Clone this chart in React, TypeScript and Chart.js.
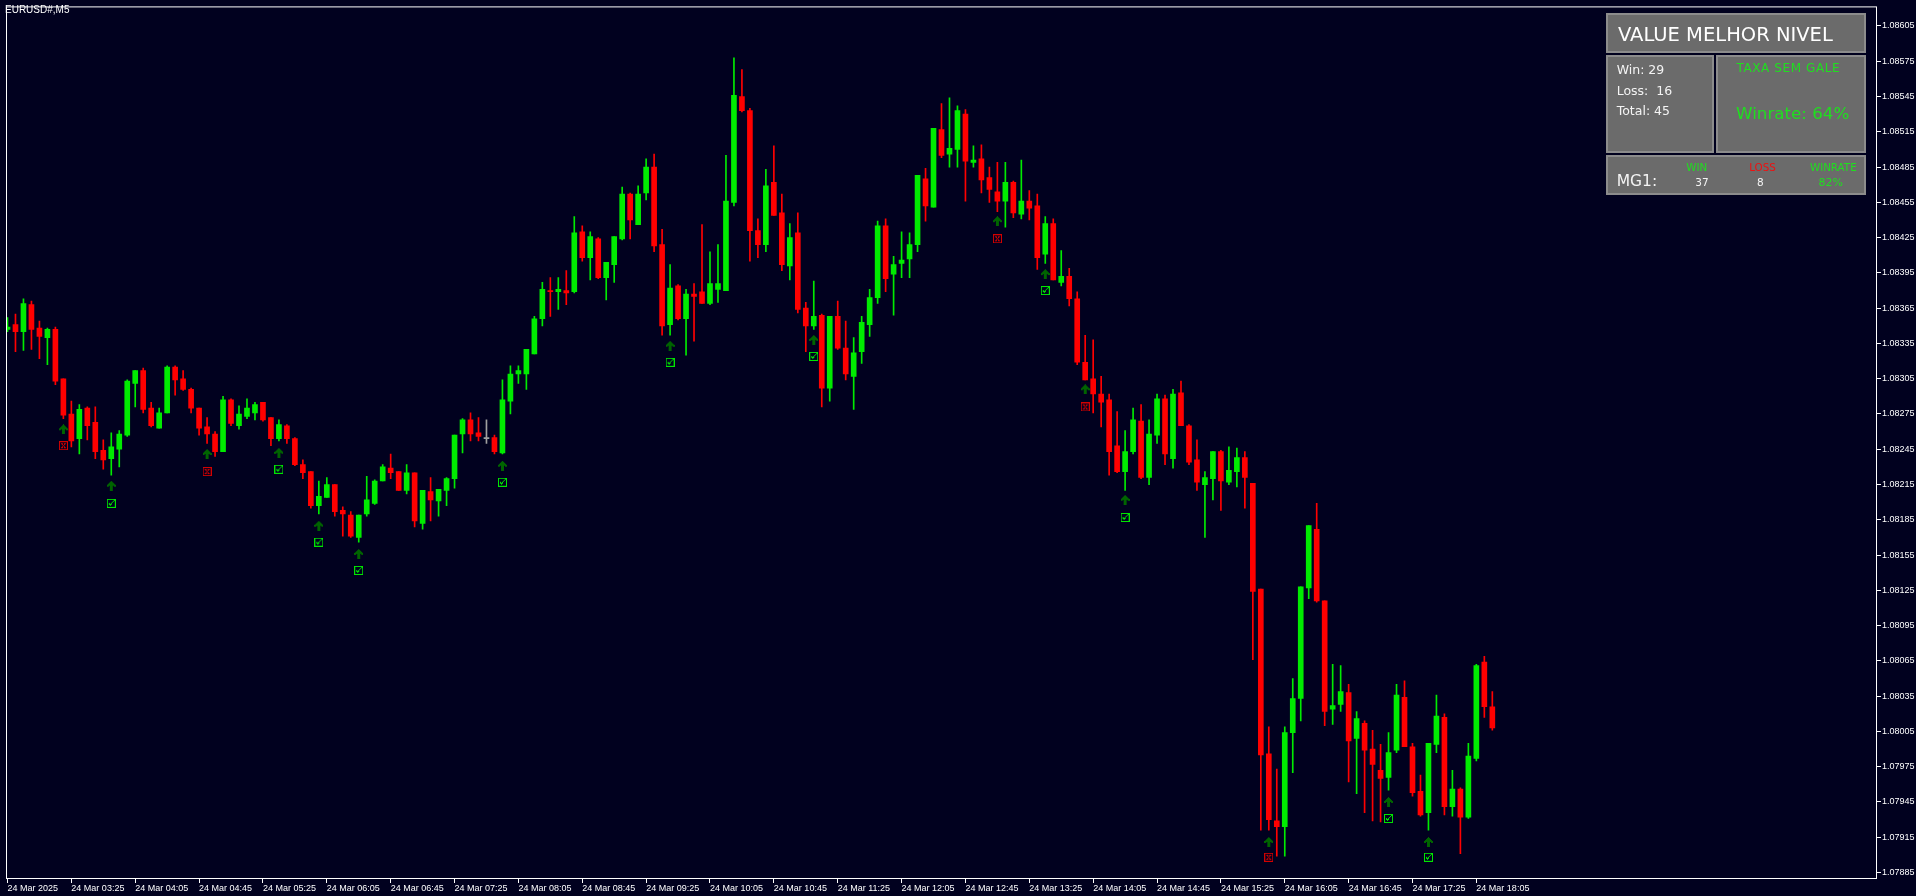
import React, { useEffect, useRef } from 'react';
import { Chart, registerables } from 'chart.js';

Chart.register(...registerables);

const BG = '#01011f';
const BULL = '#00eb00';
const BEAR = '#ff0000';
const DOJI = '#a0a0a0';
const PANEL_GREEN = '#1fdf1f';

const timeLabels = [
  '24 Mar 2025', '24 Mar 03:25', '24 Mar 04:05', '24 Mar 04:45', '24 Mar 05:25', '24 Mar 06:05',
  '24 Mar 06:45', '24 Mar 07:25', '24 Mar 08:05', '24 Mar 08:45', '24 Mar 09:25', '24 Mar 10:05',
  '24 Mar 10:45', '24 Mar 11:25', '24 Mar 12:05', '24 Mar 12:45', '24 Mar 13:25', '24 Mar 14:05',
  '24 Mar 14:45', '24 Mar 15:25', '24 Mar 16:05', '24 Mar 16:45', '24 Mar 17:25', '24 Mar 18:05',
];
const timeTickBars = [0, 8, 16, 24, 32, 40, 48, 56, 64, 72, 80, 88, 96, 104, 112, 120, 128, 136, 144, 152, 160, 168, 176, 184];

const priceTicks = [
  1.07885, 1.07915, 1.07945, 1.07975, 1.08005, 1.08035, 1.08065, 1.08095, 1.08125, 1.08155,
  1.08185, 1.08215, 1.08245, 1.08275, 1.08305, 1.08335, 1.08365, 1.08395, 1.08425, 1.08455,
  1.08485, 1.08515, 1.08545, 1.08575, 1.08605,
];

const opens = [
  1.08347, 1.08351, 1.08345, 1.08368, 1.08348, 1.08340, 1.08347, 1.08305, 1.08275, 1.08254,
  1.08280, 1.08268, 1.08244, 1.08237, 1.08245, 1.08257, 1.08301, 1.08312, 1.08280, 1.08263,
  1.08276, 1.08315, 1.08305, 1.08296, 1.08280, 1.08264, 1.08258, 1.08243, 1.08287, 1.08265,
  1.08273, 1.08276, 1.08285, 1.08272, 1.08254, 1.08265, 1.08254, 1.08232, 1.08226, 1.08197,
  1.08204, 1.08215, 1.08193, 1.08189, 1.08170, 1.08190, 1.08199, 1.08218, 1.08229, 1.08226,
  1.08210, 1.08225, 1.08182, 1.08209, 1.08201, 1.08210, 1.08220, 1.08258, 1.08270, 1.08259,
  1.08254, 1.08255, 1.08242, 1.08286, 1.08309, 1.08309, 1.08326, 1.08356, 1.08380, 1.08379,
  1.08380, 1.08379, 1.08430, 1.08408, 1.08424, 1.08391, 1.08402, 1.08424, 1.08462, 1.08436,
  1.08463, 1.08485, 1.08419, 1.08351, 1.08384, 1.08356, 1.08377, 1.08379, 1.08369, 1.08381,
  1.08380, 1.08455, 1.08545, 1.08533, 1.08431, 1.08419, 1.08472, 1.08446, 1.08401, 1.08429,
  1.08365, 1.08350, 1.08359, 1.08297, 1.08358, 1.08331, 1.08307, 1.08328, 1.08351, 1.08374,
  1.08435, 1.08394, 1.08403, 1.08407, 1.08419, 1.08475, 1.08451, 1.08517, 1.08496, 1.08500,
  1.08530, 1.08489, 1.08492, 1.08476, 1.08464, 1.08456, 1.08472, 1.08445, 1.08456, 1.08452,
  1.08411, 1.08437, 1.08387, 1.08392, 1.08373, 1.08319, 1.08305, 1.08292, 1.08287, 1.08248,
  1.08226, 1.08243, 1.08269, 1.08221, 1.08257, 1.08288, 1.08237, 1.08293, 1.08265, 1.08236,
  1.08215, 1.08220, 1.08243, 1.08217, 1.08226, 1.08238, 1.08216, 1.08126, 1.07986, 1.07929,
  1.07924, 1.08004, 1.08033, 1.08127, 1.08177, 1.08116, 1.08024, 1.08028, 1.08038, 1.07999,
  1.08012, 1.07990, 1.07972, 1.07966, 1.07989, 1.08034, 1.07992, 1.07954, 1.07936, 1.07994,
  1.08017, 1.07941, 1.07956, 1.07932, 1.07982, 1.08064, 1.08026,
];

const highs = [
  1.08357, 1.08360, 1.08373, 1.08371, 1.08354, 1.08348, 1.08349, 1.08305, 1.08286, 1.08283,
  1.08281, 1.08281, 1.08253, 1.08259, 1.08261, 1.08304, 1.08312, 1.08314, 1.08285, 1.08280,
  1.08316, 1.08316, 1.08312, 1.08297, 1.08280, 1.08272, 1.08260, 1.08290, 1.08288, 1.08282,
  1.08288, 1.08285, 1.08285, 1.08272, 1.08270, 1.08266, 1.08255, 1.08236, 1.08226, 1.08218,
  1.08221, 1.08215, 1.08196, 1.08192, 1.08189, 1.08222, 1.08219, 1.08232, 1.08241, 1.08226,
  1.08232, 1.08225, 1.08210, 1.08221, 1.08211, 1.08221, 1.08257, 1.08271, 1.08276, 1.08272,
  1.08270, 1.08257, 1.08304, 1.08316, 1.08316, 1.08330, 1.08358, 1.08387, 1.08391, 1.08391,
  1.08397, 1.08443, 1.08435, 1.08430, 1.08425, 1.08404, 1.08426, 1.08468, 1.08463, 1.08469,
  1.08492, 1.08496, 1.08432, 1.08402, 1.08385, 1.08381, 1.08386, 1.08436, 1.08413, 1.08419,
  1.08495, 1.08578, 1.08568, 1.08535, 1.08441, 1.08483, 1.08503, 1.08462, 1.08437, 1.08446,
  1.08370, 1.08388, 1.08360, 1.08358, 1.08371, 1.08354, 1.08340, 1.08358, 1.08381, 1.08439,
  1.08441, 1.08409, 1.08430, 1.08429, 1.08478, 1.08484, 1.08518, 1.08539, 1.08544, 1.08537,
  1.08534, 1.08503, 1.08504, 1.08485, 1.08489, 1.08489, 1.08473, 1.08491, 1.08465, 1.08462,
  1.08443, 1.08441, 1.08414, 1.08399, 1.08379, 1.08342, 1.08338, 1.08307, 1.08292, 1.08277,
  1.08261, 1.08280, 1.08283, 1.08270, 1.08292, 1.08291, 1.08296, 1.08303, 1.08266, 1.08253,
  1.08226, 1.08243, 1.08244, 1.08247, 1.08246, 1.08243, 1.08216, 1.08126, 1.08009, 1.07973,
  1.08009, 1.08050, 1.08128, 1.08180, 1.08199, 1.08116, 1.08062, 1.08061, 1.08045, 1.08022,
  1.08014, 1.08006, 1.07994, 1.08004, 1.08045, 1.08048, 1.07995, 1.07968, 1.07995, 1.08036,
  1.08020, 1.07972, 1.07957, 1.07995, 1.08062, 1.08069, 1.08039,
];

const lows = [
  1.08345, 1.08328, 1.08329, 1.08330, 1.08322, 1.08317, 1.08300, 1.08271, 1.08247, 1.08241,
  1.08253, 1.08237, 1.08228, 1.08223, 1.08230, 1.08256, 1.08281, 1.08276, 1.08264, 1.08263,
  1.08276, 1.08291, 1.08295, 1.08276, 1.08257, 1.08250, 1.08239, 1.08243, 1.08265, 1.08262,
  1.08271, 1.08270, 1.08269, 1.08248, 1.08252, 1.08250, 1.08231, 1.08220, 1.08195, 1.08190,
  1.08204, 1.08188, 1.08171, 1.08170, 1.08166, 1.08188, 1.08198, 1.08218, 1.08220, 1.08210,
  1.08207, 1.08179, 1.08177, 1.08184, 1.08188, 1.08197, 1.08212, 1.08242, 1.08252, 1.08252,
  1.08250, 1.08241, 1.08241, 1.08275, 1.08301, 1.08296, 1.08326, 1.08350, 1.08358, 1.08364,
  1.08368, 1.08378, 1.08405, 1.08389, 1.08390, 1.08372, 1.08387, 1.08423, 1.08424, 1.08436,
  1.08457, 1.08413, 1.08342, 1.08342, 1.08355, 1.08325, 1.08337, 1.08369, 1.08368, 1.08370,
  1.08380, 1.08452, 1.08532, 1.08405, 1.08408, 1.08413, 1.08444, 1.08397, 1.08389, 1.08361,
  1.08328, 1.08347, 1.08281, 1.08286, 1.08330, 1.08304, 1.08279, 1.08318, 1.08341, 1.08369,
  1.08379, 1.08359, 1.08391, 1.08391, 1.08413, 1.08439, 1.08451, 1.08493, 1.08485, 1.08485,
  1.08456, 1.08485, 1.08463, 1.08455, 1.08447, 1.08434, 1.08442, 1.08441, 1.08440, 1.08398,
  1.08403, 1.08389, 1.08384, 1.08367, 1.08317, 1.08304, 1.08276, 1.08264, 1.08223, 1.08225,
  1.08210, 1.08241, 1.08220, 1.08215, 1.08250, 1.08232, 1.08229, 1.08265, 1.08232, 1.08210,
  1.08170, 1.08202, 1.08193, 1.08215, 1.08213, 1.08195, 1.08066, 1.07921, 1.07921, 1.07899,
  1.07899, 1.07970, 1.08014, 1.08118, 1.08115, 1.08010, 1.08011, 1.08022, 1.07962, 1.07952,
  1.07936, 1.07929, 1.07928, 1.07955, 1.07987, 1.07992, 1.07950, 1.07933, 1.07921, 1.07987,
  1.07934, 1.07933, 1.07901, 1.07931, 1.07980, 1.08017, 1.08006,
];

const closes = [
  1.08349, 1.08345, 1.08369, 1.08347, 1.08341, 1.08347, 1.08303, 1.08274, 1.08252, 1.08279,
  1.08265, 1.08243, 1.08236, 1.08247, 1.08258, 1.08303, 1.08312, 1.08279, 1.08265, 1.08276,
  1.08315, 1.08304, 1.08296, 1.08280, 1.08263, 1.08258, 1.08243, 1.08287, 1.08267, 1.08275,
  1.08280, 1.08283, 1.08270, 1.08254, 1.08266, 1.08254, 1.08232, 1.08225, 1.08197, 1.08205,
  1.08215, 1.08192, 1.08190, 1.08171, 1.08189, 1.08202, 1.08218, 1.08230, 1.08225, 1.08210,
  1.08225, 1.08184, 1.08210, 1.08202, 1.08211, 1.08220, 1.08257, 1.08270, 1.08258, 1.08256,
  1.08254, 1.08243, 1.08287, 1.08309, 1.08312, 1.08330, 1.08356, 1.08381, 1.08379, 1.08381,
  1.08378, 1.08429, 1.08408, 1.08426, 1.08391, 1.08404, 1.08426, 1.08462, 1.08440, 1.08462,
  1.08485, 1.08418, 1.08350, 1.08382, 1.08356, 1.08377, 1.08375, 1.08369, 1.08386, 1.08386,
  1.08456, 1.08546, 1.08533, 1.08431, 1.08419, 1.08469, 1.08444, 1.08402, 1.08425, 1.08364,
  1.08350, 1.08358, 1.08297, 1.08358, 1.08331, 1.08309, 1.08327, 1.08353, 1.08374, 1.08435,
  1.08390, 1.08402, 1.08406, 1.08419, 1.08478, 1.08452, 1.08518, 1.08495, 1.08501, 1.08533,
  1.08490, 1.08491, 1.08474, 1.08466, 1.08456, 1.08472, 1.08446, 1.08456, 1.08450, 1.08408,
  1.08437, 1.08389, 1.08392, 1.08373, 1.08319, 1.08304, 1.08292, 1.08285, 1.08243, 1.08226,
  1.08243, 1.08270, 1.08221, 1.08258, 1.08288, 1.08241, 1.08292, 1.08265, 1.08234, 1.08217,
  1.08221, 1.08243, 1.08218, 1.08227, 1.08238, 1.08221, 1.08124, 1.07985, 1.07930, 1.07924,
  1.08004, 1.08033, 1.08128, 1.08180, 1.08116, 1.08022, 1.08027, 1.08039, 1.07997, 1.08016,
  1.07989, 1.07977, 1.07965, 1.07987, 1.08036, 1.07992, 1.07953, 1.07934, 1.07995, 1.08018,
  1.07941, 1.07956, 1.07932, 1.07984, 1.08061, 1.08026, 1.08008,
];

const signalBars = [7, 13, 25, 34, 39, 44, 62, 83, 101, 124, 130, 135, 140, 158, 173, 178];
const arrowPrices = [
  1.08262, 1.08214, 1.08241, 1.08242, 1.08180, 1.08156, 1.08231, 1.08333,
  1.08338, 1.08439, 1.08394, 1.08296, 1.08202, 1.07911, 1.07945, 1.07911,
];
const resultPrices = [
  1.08248, 1.08199, 1.08226, 1.08228, 1.08166, 1.08142, 1.08217, 1.08319,
  1.08324, 1.08424, 1.08380, 1.08281, 1.08187, 1.07898, 1.07931, 1.07898,
];
const signalWin = [false, true, false, true, true, true, true, true, true, false, true, false, true, false, true, true];

const X_MIN = -0.1875;
const X_MAX = 234.1875;
const Y_MIN = 1.0787951;
const Y_MAX = 1.0862167;

function makeImg(w: number, h: number, draw: (g: CanvasRenderingContext2D) => void) {
  const c = document.createElement('canvas');
  c.width = w;
  c.height = h;
  const g = c.getContext('2d')!;
  draw(g);
  return c;
}

function px(g: CanvasRenderingContext2D, pts: number[][]) {
  pts.forEach(([x, y]) => g.fillRect(x, y, 1, 1));
}

const framePlugin = {
  id: 'frame',
  afterDatasetsDraw(chart: any) {
    const { ctx, chartArea: a } = chart;
    ctx.save();
    ctx.strokeStyle = '#ffffff';
    ctx.lineWidth = 1;
    ctx.strokeRect(a.left + 0.5, a.top + 0.5, a.right - a.left - 1, a.bottom - a.top - 1);
    ctx.restore();
  },
};

type TxtProps = {
  x: number; y: number; size: number; color: string; center?: boolean; ls?: number; children: React.ReactNode;
};
function Txt({ x, y, size, color, center, ls, children }: TxtProps) {
  return (
    <div
      style={{
        position: 'absolute', left: x, top: y,
        transform: center ? 'translate(-50%, -50%)' : 'translateY(-50%)',
        fontFamily: '"DejaVu Sans", sans-serif', fontSize: size, lineHeight: 1, color,
        whiteSpace: 'pre', letterSpacing: ls ?? 0,
      }}
    >
      {children}
    </div>
  );
}

function Box({ x, y, w, h }: { x: number; y: number; w: number; h: number }) {
  return (
    <div
      style={{
        position: 'absolute', left: x, top: y, width: w, height: h, boxSizing: 'border-box',
        background: '#6b6b6b', border: '2px solid #8c8c8c',
      }}
    />
  );
}

export default function App() {
  const ref = useRef<HTMLCanvasElement>(null);

  useEffect(() => {
    const canvas = ref.current!;
    const idx = opens.map((_, i) => i);
    const colors = idx.map((i) => (closes[i] > opens[i] ? BULL : closes[i] < opens[i] ? BEAR : DOJI));

    const arrowImg = makeImg(9, 10, (g) => {
      g.fillStyle = '#006400';
      const rows: number[][][] = [
        [[4, 4]], [[3, 5]], [[2, 6]], [[1, 7]], [[0, 8]],
        [[0, 1], [3, 5], [7, 8]], [[3, 5]], [[3, 5]], [[3, 5]], [[3, 5]],
      ];
      rows.forEach((segs, r) => segs.forEach(([a, b]) => g.fillRect(a, r, b - a + 1, 1)));
    });
    const winImg = makeImg(9, 9, (g) => {
      g.strokeStyle = '#00e600';
      g.fillStyle = '#00e600';
      g.lineWidth = 1;
      g.strokeRect(0.5, 0.5, 8, 8);
      px(g, [[2, 4], [2, 5], [3, 5], [3, 6], [4, 5], [4, 4], [5, 3], [6, 2], [7, 1]]);
    });
    const lossImg = makeImg(9, 9, (g) => {
      g.strokeStyle = '#d40000';
      g.fillStyle = '#d40000';
      g.lineWidth = 1;
      g.strokeRect(0.5, 0.5, 8, 8);
      px(g, [[2, 2], [3, 3], [4, 4], [5, 5], [6, 6], [6, 2], [5, 3], [3, 5], [2, 6], [3, 2], [5, 2], [3, 6], [5, 6]]);
    });

    const winIdx = signalBars.map((_, k) => k).filter((k) => signalWin[k]);
    const lossIdx = signalBars.map((_, k) => k).filter((k) => !signalWin[k]);

    const tickFont = { family: '"Liberation Sans", Arial, sans-serif', size: 9 };

    const chart = new Chart(canvas, {
      type: 'bar',
      data: {
        datasets: [
          {
            type: 'scatter',
            label: 'signal',
            data: signalBars.map((b, k) => ({ x: b, y: arrowPrices[k] })),
            pointStyle: arrowImg,
            pointRadius: 5,
          } as any,
          {
            type: 'scatter',
            label: 'win',
            data: winIdx.map((k) => ({ x: signalBars[k], y: resultPrices[k] })),
            pointStyle: winImg,
            pointRadius: 5,
          } as any,
          {
            type: 'scatter',
            label: 'loss',
            data: lossIdx.map((k) => ({ x: signalBars[k], y: resultPrices[k] })),
            pointStyle: lossImg,
            pointRadius: 5,
          } as any,
          {
            type: 'bar',
            label: 'body',
            data: idx.map((i) => ({ x: i, y: [Math.min(opens[i], closes[i]), Math.max(opens[i], closes[i])] })),
            backgroundColor: colors,
            borderWidth: 0,
            grouped: false,
            barPercentage: 1,
            categoryPercentage: 1,
            maxBarThickness: 5,
            minBarLength: 1,
          } as any,
          {
            type: 'bar',
            label: 'wick',
            data: idx.map((i) => ({ x: i, y: [lows[i], highs[i]] })),
            backgroundColor: colors,
            borderWidth: 0,
            grouped: false,
            barPercentage: 1,
            categoryPercentage: 1,
            maxBarThickness: 1,
          } as any,
        ],
      },
      options: {
        responsive: false,
        animation: false,
        events: [],
        layout: { padding: { left: 2, top: 2, right: 0, bottom: 0 } },
        plugins: { legend: { display: false }, tooltip: { enabled: false } },
        scales: {
          x: {
            type: 'linear',
            position: 'bottom',
            min: X_MIN,
            max: X_MAX,
            bounds: 'data',
            offset: false,
            afterBuildTicks: (s: any) => {
              s.ticks = timeTickBars.map((v) => ({ value: v }));
            },
            afterFit: (s: any) => {
              s.height = 17;
            },
            ticks: {
              color: '#ffffff',
              font: tickFont,
              align: 'start',
              maxRotation: 0,
              minRotation: 0,
              autoSkip: false,
              padding: 0,
              callback: (_v: any, i: number) => timeLabels[i],
            },
            grid: { display: true, offset: false, drawOnChartArea: false, drawTicks: true, tickLength: 4, color: '#ffffff', lineWidth: 1 },
            border: { display: false },
          },
          y: {
            type: 'linear',
            position: 'right',
            min: Y_MIN,
            max: Y_MAX,
            bounds: 'data',
            beginAtZero: false,
            afterBuildTicks: (s: any) => {
              s.ticks = priceTicks.map((v) => ({ value: v }));
            },
            afterFit: (s: any) => {
              s.width = 39;
            },
            ticks: {
              color: '#ffffff',
              font: tickFont,
              padding: 1,
              autoSkip: false,
              callback: (v: any) => Number(v).toFixed(5),
            },
            grid: { display: true, drawOnChartArea: false, drawTicks: true, tickLength: 4, color: '#ffffff', lineWidth: 1 },
            border: { display: false },
          },
        },
      } as any,
      plugins: [framePlugin],
    });
    return () => chart.destroy();
  }, []);

  return (
    <div style={{ position: 'fixed', left: 0, top: 0, width: 1916, height: 896, background: BG, overflow: 'hidden' }}>
      <canvas
        ref={ref}
        width={1916}
        height={896}
        style={{ position: 'absolute', left: 0, top: 0, width: 1916, height: 896, display: 'block' }}
      />
      <div
        style={{
          position: 'absolute', left: 5, top: 10, transform: 'translateY(-50%)',
          fontFamily: '"Liberation Sans", Arial, sans-serif', fontSize: 10, lineHeight: 1, color: '#ffffff', whiteSpace: 'pre',
        }}
      >
        EURUSD#,M5
      </div>

      <Box x={1606} y={13} w={260} h={40} />
      <Box x={1606} y={55} w={108} h={98} />
      <Box x={1716} y={55} w={150} h={98} />
      <Box x={1606} y={155} w={260} h={40} />

      <Txt x={1618} y={34.7} size={19.5} color="#ffffff">VALUE MELHOR NIVEL</Txt>
      <Txt x={1616.7} y={70} size={12.5} color="#f4f4f4">Win: 29</Txt>
      <Txt x={1616.7} y={90.7} size={12.5} color="#f4f4f4">Loss:  16</Txt>
      <Txt x={1616.7} y={111} size={12.5} color="#f4f4f4">Total: 45</Txt>
      <Txt x={1788.3} y={67.7} size={12} color={PANEL_GREEN} center ls={0.6}>TAXA SEM GALE</Txt>
      <Txt x={1792.7} y={113.3} size={16.7} color={PANEL_GREEN} center>Winrate: 64%</Txt>
      <Txt x={1616.7} y={181.7} size={15.5} color="#f4f4f4">MG1:</Txt>
      <Txt x={1696.7} y={167.3} size={10.3} color={PANEL_GREEN} center>WIN</Txt>
      <Txt x={1762.5} y={167.3} size={10.3} color="#ee1111" center>LOSS</Txt>
      <Txt x={1833.3} y={167.3} size={10.3} color={PANEL_GREEN} center>WINRATE</Txt>
      <Txt x={1702} y={181.7} size={10.5} color="#f4f4f4" center>37</Txt>
      <Txt x={1760.3} y={181.7} size={10.5} color="#f4f4f4" center>8</Txt>
      <Txt x={1830.8} y={181.7} size={11} color={PANEL_GREEN} center>82%</Txt>
    </div>
  );
}
